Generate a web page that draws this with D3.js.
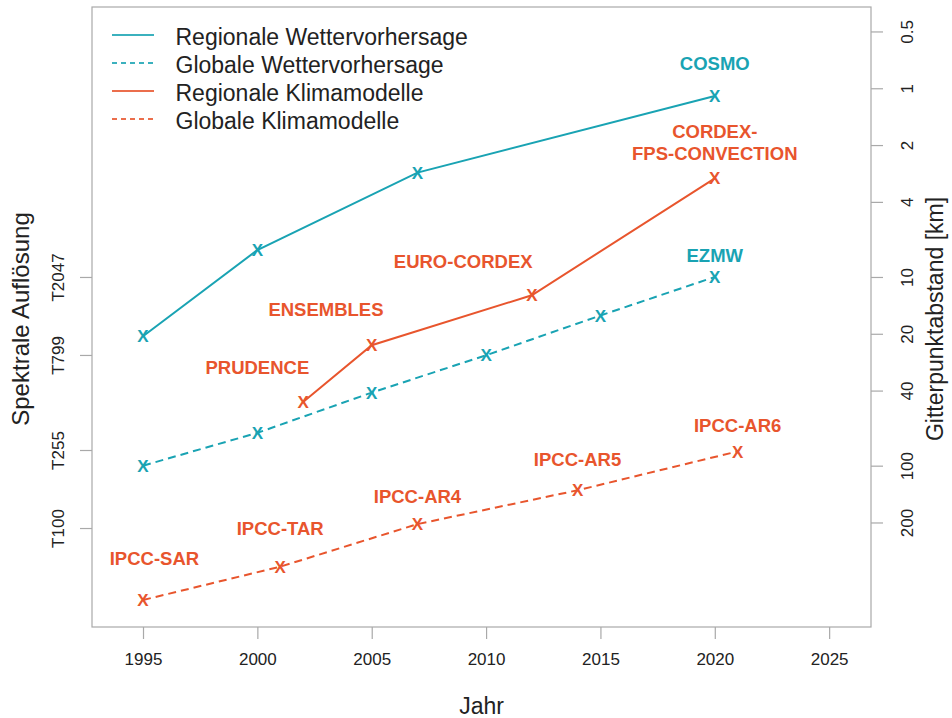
<!DOCTYPE html>
<html>
<head>
<meta charset="utf-8">
<script src="https://cdn.jsdelivr.net/npm/d3@7"></script>
<style>
  html, body { margin: 0; padding: 0; background: #fff; }
  svg { display: block; font-family: "Liberation Sans", Arial, Helvetica, sans-serif; }
</style>
</head>
<body>
<svg id="chart" width="952" height="718"></svg>
<script>
// ---------- data ----------
const regWxYears   = [1995, 2000, 2007, 2020];
const regWxKm      = [20.6, 7.2, 2.8, 1.1];
const globWxYears  = [1995, 2000, 2005, 2010, 2015, 2020];
const globWxKm     = [100, 67, 41, 26, 16, 10];
const regClimYears = [2002, 2005, 2012, 2020];
const regClimKm    = [46, 23, 12.5, 3.0];
const globClimYears = [1995, 2001, 2007, 2014, 2021];
const globClimKm    = [515, 343, 204, 135, 84];

const seriesNames = ["Regionale Wettervorhersage", "Globale Wettervorhersage",
                     "Regionale Klimamodelle", "Globale Klimamodelle"];

const xTicks = [1995, 2000, 2005, 2010, 2015, 2020, 2025];
const kmTicks = [0.5, 1, 2, 4, 10, 20, 40, 100, 200];
const spectralLabels = ["T2047", "T799", "T255", "T100"];
const spectralKm     = [10.0, 25.9, 82.6, 214];

const annoText  = ["COSMO", "CORDEX-", "FPS-CONVECTION", "EZMW", "EURO-CORDEX", "ENSEMBLES", "PRUDENCE",
                   "IPCC-SAR", "IPCC-TAR", "IPCC-AR4", "IPCC-AR5", "IPCC-AR6"];
const annoYear  = [2020, 2020, 2020, 2020, 2009, 2003, 2000, 1995.5, 2001, 2007, 2014, 2021];
const annoKm    = [0.74, 1.70, 2.20, 7.64, 8.3, 14.8, 30, 311, 216, 146, 93, 61];
const annoGroup = ["wx", "clim", "clim", "wx", "clim", "clim", "clim", "clim", "clim", "clim", "clim", "clim"];

// ---------- styles ----------
const TEAL = "#19a3b3";
const ORANGE = "#e8552d";
const AXIS_GREY = "#a9a9a9";
const TEXT = "#222";

const series = [
  { name: seriesNames[0], years: regWxYears,   km: regWxKm,   color: TEAL,   dash: null },
  { name: seriesNames[1], years: globWxYears,  km: globWxKm,  color: TEAL,   dash: "8,5" },
  { name: seriesNames[2], years: regClimYears, km: regClimKm, color: ORANGE, dash: null },
  { name: seriesNames[3], years: globClimYears, km: globClimKm, color: ORANGE, dash: "8,5" }
];

const box = { left: 92, right: 871, top: 7, bottom: 627 };

const x = d3.scaleLinear().domain([1992.77, 2026.83]).range([box.left, box.right]);
const y = d3.scaleLog().domain([0.371, 716]).range([box.top, box.bottom]);

const svg = d3.select("#chart");

// plot box
svg.append("rect")
  .attr("x", box.left).attr("y", box.top)
  .attr("width", box.right - box.left).attr("height", box.bottom - box.top)
  .attr("fill", "none").attr("stroke", AXIS_GREY).attr("stroke-width", 1.2);

// bottom axis
const xAxis = d3.axisBottom(x).tickValues(xTicks).tickFormat(d3.format("d")).tickSize(12).tickPadding(14);
const gx = svg.append("g").attr("transform", `translate(0,${box.bottom})`).call(xAxis);
gx.select(".domain").remove();
gx.selectAll(".tick line").attr("stroke", AXIS_GREY).attr("stroke-width", 1.2);
gx.selectAll(".tick text").attr("font-size", 17).attr("fill", TEXT)
  .attr("font-family", "Liberation Sans, Arial, sans-serif");

// right axis (km, log)
const yAxisR = d3.axisRight(y).tickValues(kmTicks).tickFormat(d => String(d)).tickSize(12);
const gyr = svg.append("g").attr("transform", `translate(${box.right},0)`).call(yAxisR);
gyr.select(".domain").remove();
gyr.selectAll(".tick line").attr("stroke", AXIS_GREY).attr("stroke-width", 1.2);
gyr.selectAll(".tick text")
  .attr("font-size", 17).attr("fill", TEXT)
  .attr("font-family", "Liberation Sans, Arial, sans-serif")
  .attr("text-anchor", "middle").attr("dy", null).attr("x", null)
  .attr("transform", "translate(42,0) rotate(-90)")
  .attr("y", 0);

// left axis (spectral resolution)
const yAxisL = d3.axisLeft(y).tickValues(spectralKm)
  .tickFormat((d, i) => spectralLabels[i]).tickSize(12);
const gyl = svg.append("g").attr("transform", `translate(${box.left},0)`).call(yAxisL);
gyl.select(".domain").remove();
gyl.selectAll(".tick line").attr("stroke", AXIS_GREY).attr("stroke-width", 1.2);
gyl.selectAll(".tick text")
  .attr("font-size", 17).attr("fill", TEXT)
  .attr("font-family", "Liberation Sans, Arial, sans-serif")
  .attr("text-anchor", "middle").attr("dy", null).attr("x", null)
  .attr("transform", "translate(-28.5,0) rotate(-90)")
  .attr("y", 0);

// axis titles
svg.append("text")
  .attr("x", (box.left + box.right) / 2).attr("y", 714)
  .attr("text-anchor", "middle").attr("font-size", 23).attr("fill", TEXT)
  .text("Jahr");
svg.append("text")
  .attr("transform", `translate(29,${(box.top + box.bottom) / 2 + 2}) rotate(-90)`)
  .attr("text-anchor", "middle").attr("font-size", 24).attr("fill", TEXT)
  .text("Spektrale Auflösung");
svg.append("text")
  .attr("transform", `translate(943,${(box.top + box.bottom) / 2 + 2}) rotate(-90)`)
  .attr("text-anchor", "middle").attr("font-size", 23).attr("fill", TEXT)
  .text("Gitterpunktabstand [km]");

// lines and markers
const line = d3.line().x(d => x(d[0])).y(d => y(d[1]));
series.forEach(s => {
  const pts = s.years.map((yr, i) => [yr, s.km[i]]);
  svg.append("path")
    .datum(pts)
    .attr("d", line)
    .attr("fill", "none")
    .attr("stroke", s.color)
    .attr("stroke-width", 2)
    .attr("stroke-dasharray", s.dash);
  svg.append("g").selectAll("text")
    .data(pts).join("text")
    .attr("x", d => x(d[0])).attr("y", d => y(d[1]) + 6.2)
    .attr("text-anchor", "middle")
    .attr("font-size", 17).attr("font-weight", "bold")
    .attr("fill", s.color)
    .text("X");
});

// annotations
svg.append("g").selectAll("text")
  .data(annoText.map((t, i) => ({ t, yr: annoYear[i], km: annoKm[i], g: annoGroup[i] })))
  .join("text")
  .attr("x", d => x(d.yr)).attr("y", d => y(d.km) + 6.7)
  .attr("text-anchor", "middle")
  .attr("font-size", 18.5).attr("font-weight", "bold")
  .attr("fill", d => d.g === "wx" ? TEAL : ORANGE)
  .text(d => d.t);

// legend
const legend = svg.append("g");
series.forEach((s, i) => {
  const ly = 35 + i * 28;
  legend.append("line")
    .attr("x1", 112).attr("x2", 154).attr("y1", ly).attr("y2", ly)
    .attr("stroke", s.color).attr("stroke-width", 2)
    .attr("stroke-dasharray", s.dash ? "5,4" : null)
    .attr("stroke-opacity", 0.85);
  legend.append("text")
    .attr("x", 175.5).attr("y", ly + 9.5)
    .attr("font-size", 23).attr("fill", TEXT)
    .text(s.name);
});
</script>
</body>
</html>
